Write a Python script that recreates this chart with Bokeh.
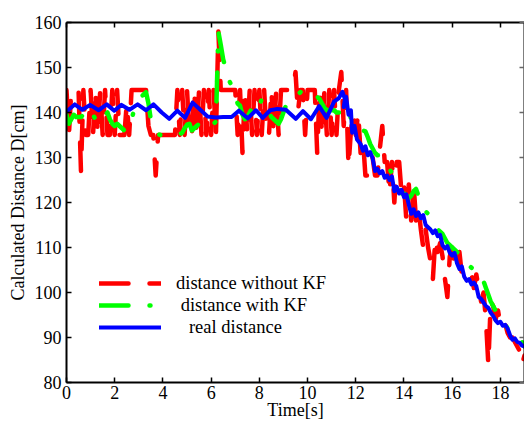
import numpy as np
from bokeh.plotting import figure
from bokeh.models import (Range1d, LinearAxis, Legend, LegendItem, FixedTicker,
                          CustomJSTickFormatter, AllLabels)
from bokeh.embed import file_html
from bokeh.resources import INLINE

# ---------------- data ----------------
x_ticks = [0, 2, 4, 6, 8, 10, 12, 14, 16, 18]
y_ticks = [80, 90, 100, 110, 120, 130, 140, 150, 160]

# sampling grid for the measured series (seconds)
t_meas = [round(i * 0.1, 1) for i in range(191)]

dist_no_kf = [
    145, 135, 145, 145, 145, 145, 127, 145, 135, 135,
    145, 135, 145, 135, 145, 135, 145, 135, 135, 145,
    135, 145, 135, 135, 135, 142, 135, 145, 145, 145,
    145, 145, 145, 145, 137, 135, 135, 126, 135, 135,
    135, 135, 135, 135, 135, 135, 145, 135, 145, 135,
    145, 135, 135, 145, 135, 145, 135, 145, 135, 145,
    135, 145, 135, 158, 145, 145, 145, 145, 145, 145,
    145, 135, 145, 131, 145, 135, 145, 135, 145, 135,
    145, 135, 145, 135, 135, 145, 135, 145, 135, 145,
    145, 145, 145, 145, 145, 149, 140, 145, 145, 135,
    145, 145, 145, 145, 131, 145, 135, 145, 135, 145,
    135, 145, 135, 145, 149, 137, 145, 128, 136, 140,
    135, 140, 131, 134, 126, 126, 126, 130, 126, 126,
    132, 137, 129, 129, 122, 129, 120, 129, 129, 122,
    124, 116, 124, 116, 124, 116, 119, 114, 110, 114,
    110, 107, 103, 112, 109, 111, 108, 103, 99, 108,
    110, 106, 105, 109, 104, 104, 103, 104, 104, 101,
    104, 101, 98, 100, 94, 84, 98, 97, 94, 96,
    93, 92, 93, 91, 90, 90, 89, 88, 87, 84,
    86,
]

dist_kf = [
    139.5, 137.5, 138.5, 139.5, 139.0, 139.0, 139.0, 139.5, 140.5, 141.0,
    140.5, 139.5, 138.5, 139.5, 140.5, 140.0, 139.5, 140.0, 138.5, 137.5,
    137.0, 137.5, 137.0, 136.5, 136.0, 135.8, 137.5, 138.5, 140.5, 141.5,
    142.5, 143.5, 144.0, 144.5, 142.0, 138.4, 137.0, 136.0, 135.2, 135.0,
    135.0, 135.0, 135.0, 135.0, 135.0, 135.0, 135.0, 135.2, 135.5, 136.5,
    137.3, 137.5, 136.0, 136.5, 137.0, 137.5, 138.0, 138.5, 138.0, 137.5,
    137.5, 137.5, 138.0, 158.0, 155.0, 151.8, 150.0, 147.6, 146.5, 145.0,
    143.5, 142.0, 141.5, 139.5, 138.5, 139.0, 140.0, 141.0, 141.5, 140.5,
    141.5, 143.0, 142.0, 141.0, 140.0, 139.0, 138.5, 138.0, 137.5, 138.5,
    140.0, 141.5, 142.5, 143.0, 143.5, 143.7, 144.0, 144.5, 145.0, 145.0,
    145.0, 144.5, 144.0, 143.5, 143.5, 143.0, 142.0, 141.0, 140.5, 140.5,
    140.5, 140.5, 140.0, 140.0, 140.0, 140.0, 140.0, 141.0, 138.5, 137.0,
    136.8, 136.5, 136.0, 136.0, 135.8, 134.5, 133.0, 132.0, 131.0, 130.5,
    130.5, 130.0, 129.5, 128.5, 127.5, 126.5, 125.8, 125.0, 123.5, 122.0,
    122.0, 121.5, 121.0, 121.5, 122.5, 123.0, 121.5, 120.5, 119.5, 118.0,
    117.5, 117.0, 116.0, 115.0, 114.0, 113.5, 113.0, 112.0, 111.0, 110.5,
    110.0, 109.5, 109.0, 108.5, 108.2, 108.0, 107.0, 106.0, 105.5, 105.3,
    105.3, 104.5, 103.5, 102.5, 101.0, 99.5, 98.0, 97.0, 96.0, 95.0,
    94.0, 93.5, 93.0, 92.0, 91.5, 91.0, 90.5, 90.0, 89.5, 89.0,
    88.0,
]

t_real = [
    0.0, 0.34, 0.66, 0.98, 1.33, 1.67, 1.98, 2.28, 2.61, 2.95,
    3.30, 3.61, 3.95, 4.26, 4.60, 4.92, 5.23, 5.55, 5.85, 6.2,
    6.5, 6.85, 7.15, 7.52, 7.86, 8.14, 8.45, 8.75, 9.1, 9.51,
    9.81, 10.14, 10.48, 10.79, 11.1, 11.3, 11.45, 11.55, 11.5, 11.6,
    11.7, 11.8, 11.85, 11.95, 12.05, 12.2, 12.3, 12.4, 12.5, 12.6,
    12.7, 12.8, 12.9, 13.0, 13.1, 13.2, 13.3, 13.4, 13.5, 13.6,
    13.7, 13.8, 13.9, 14.0, 14.1, 14.2, 14.3, 14.4, 14.5, 14.6,
    14.7, 14.8, 14.9, 15.0, 15.1, 15.2, 15.3, 15.4, 15.5, 15.6,
    15.7, 15.8, 15.9, 16.0, 16.1, 16.2, 16.3, 16.4, 16.5, 16.6,
    16.7, 16.8, 16.9, 17.0, 17.1, 17.2, 17.3, 17.4, 17.5, 17.6,
    17.7, 17.8, 17.9, 18.0, 18.1, 18.2, 18.3, 18.4, 18.5, 18.6,
    18.7, 18.8, 18.9, 19.0,
]
real_dist = [
    140.2, 141.8, 140.6, 141.7, 140.5, 141.8, 140.4, 141.7, 140.6, 141.8,
    140.5, 141.8, 140.0, 138.6, 140.4, 138.8, 142.2, 140.6, 139.1, 138.9,
    139.0, 139.0, 140.4, 138.7, 140.5, 138.8, 140.5, 140.8, 140.6, 138.6,
    140.3, 138.5, 141.4, 138.8, 142.4, 143.2, 144.6, 143.0, 141.2, 143.5,
    139.5, 140.5, 135.5, 137.0, 134.0, 133.0, 131.5, 132.5, 130.5, 131.2,
    129.8, 127.0, 127.5, 126.5, 127.0, 125.5, 126.0, 125.0, 125.8, 122.5,
    123.5, 122.0, 122.8, 121.2, 121.8, 119.5, 117.5, 118.5, 117.0, 117.8,
    116.5, 117.2, 115.0, 114.5, 114.0, 113.2, 113.8, 112.5, 112.8, 110.5,
    109.8, 110.3, 108.8, 108.2, 108.8, 106.5, 105.2, 105.8, 103.5, 102.6,
    103.0, 101.8, 102.2, 101.4, 99.0, 98.6, 97.8, 97.0, 96.6, 95.5,
    94.8, 93.8, 93.2, 93.5, 92.6, 92.8, 92.0, 90.5, 89.5, 89.8,
    89.0, 88.8, 88.2, 88.0,
]

labels = ["distance without KF", "\u00a0distance with KF", "\u00a0\u00a0\u2009real distance"]
x_title = "Time[s]"
y_title = "Calculated Distance D[cm]"

# ---------------- figure ----------------
FONT = "Liberation Serif"

p = figure(width=524, height=422, output_backend="svg", toolbar_location=None,
           x_range=Range1d(0, 19), y_range=Range1d(80, 160),
           min_border_left=66, min_border_top=22, min_border_right=0,
           min_border_bottom=38, background_fill_color="white",
           border_fill_color="white")
p.xgrid.visible = False
p.ygrid.visible = False
p.outline_line_color = None

r_red = p.line(t_meas, dist_no_kf, line_color="#ff0000", line_width=4.5,
               line_dash="29 21", line_cap="round", line_join="round")
r_green = p.line(t_meas, dist_kf, line_color="#00ff00", line_width=4.5,
                 line_dash="29 21 1 21", line_cap="round", line_join="round")
r_blue = p.line(t_real, real_dist, line_color="#0000ff", line_width=4,
                line_cap="round", line_join="round")


def style_axis(ax, show_labels=True):
    ax.axis_line_width = 2
    ax.axis_line_color = "black"
    ax.major_tick_in = 5
    ax.major_tick_out = 0
    ax.major_tick_line_width = 1.5
    ax.major_tick_line_color = "black"
    ax.minor_tick_line_color = None
    ax.major_label_text_font = FONT
    ax.major_label_text_color = "black"
    ax.major_label_policy = AllLabels()
    ax.axis_label_text_font = FONT
    ax.axis_label_text_font_style = "normal"
    ax.axis_label_text_color = "black"
    ax.major_label_text_font_size = "18px"
    ax.axis_label_text_font_size = "18px"
    if not show_labels:
        ax.formatter = CustomJSTickFormatter(code="return '';")
        ax.major_label_standoff = 0


xa = p.xaxis[0]
ya = p.yaxis[0]
xa.ticker = FixedTicker(ticks=x_ticks)
ya.ticker = FixedTicker(ticks=y_ticks)
style_axis(xa)
style_axis(ya)
xa.axis_label = x_title
ya.axis_label = y_title
xa.major_label_standoff = 3
xa.axis_label_standoff = -2
ya.major_label_standoff = 5
ya.axis_label_standoff = 4

top = LinearAxis(ticker=FixedTicker(ticks=x_ticks))
style_axis(top, show_labels=False)
p.add_layout(top, "above")
right = LinearAxis(ticker=FixedTicker(ticks=y_ticks))
style_axis(right, show_labels=False)
right.major_tick_line_color = "#666666"
p.add_layout(right, "right")

legend = Legend(items=[LegendItem(label=labels[0], renderers=[r_red]),
                       LegendItem(label=labels[1], renderers=[r_green]),
                       LegendItem(label=labels[2], renderers=[r_blue])],
                location=(33, 44), orientation="vertical",
                label_text_font=FONT, label_text_font_size="18.5px",
                label_text_color="black",
                glyph_width=62, glyph_height=22, label_height=22,
                label_standoff=15, spacing=0, padding=0, margin=0,
                border_line_color=None, background_fill_alpha=0)
p.add_layout(legend, "center")

open("out.html", "w").write(file_html(p, INLINE))
